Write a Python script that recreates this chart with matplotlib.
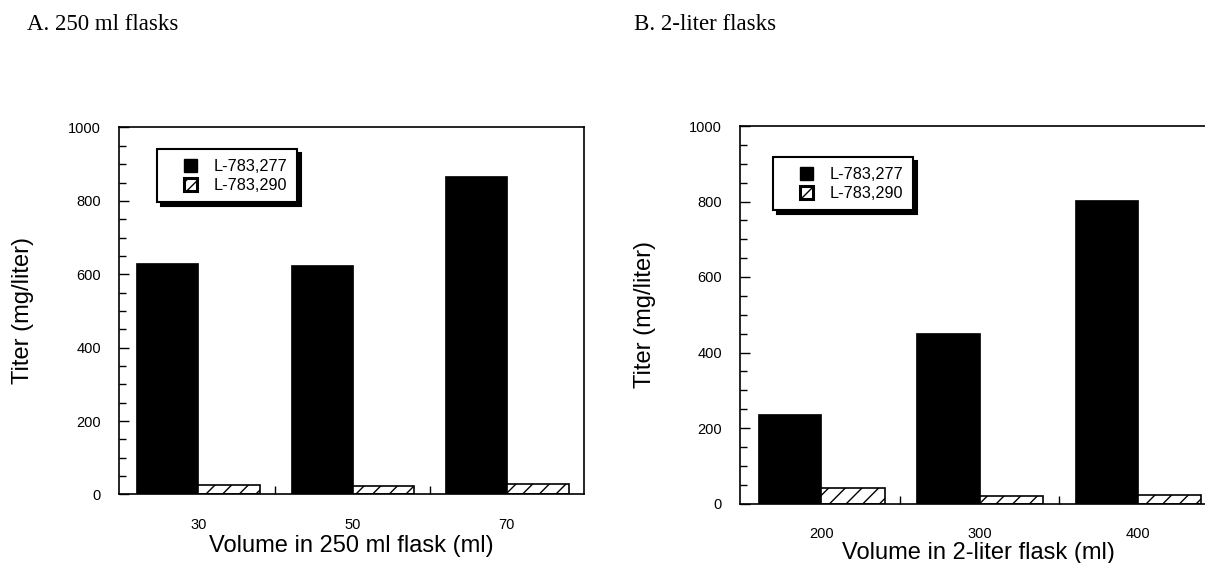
import matplotlib
matplotlib.use("Agg")
import matplotlib.pyplot as plt
import numpy as np
from matplotlib.patches import Patch, Rectangle
from matplotlib.legend_handler import HandlerPatch

plt.rcParams['font.family'] = ['Liberation Sans', 'DejaVu Sans']
plt.rcParams['hatch.linewidth'] = 1.0

# Data
cats_a = ["30", "50", "70"]
l277_a = [630, 626, 868]
l290_a = [25, 22, 28]

cats_b = ["200", "300", "400"]
l277_b = [237, 451, 803]
l290_b = [40, 20, 22]

series_names = ["L-783,277", "L-783,290"]
title_a = "A. 250 ml flasks"
title_b = "B. 2-liter flasks"
xlabel_a = "Volume in 250 ml flask (ml)"
xlabel_b = "Volume in 2-liter flask (ml)"
ylabel = "Titer (mg/liter)"


class SquareHandler(HandlerPatch):
    """Draw a small square, right-aligned in the handle box."""
    def create_artists(self, legend, orig_handle, xdescent, ydescent,
                       width, height, fontsize, trans):
        s = 0.78 * fontsize
        p = Rectangle((-xdescent + width - s, -ydescent + (height - s) / 2), s, s)
        self.update_prop(p, orig_handle, legend)
        p.set_transform(trans)
        return [p]


fig = plt.figure(figsize=(12.05, 5.63), dpi=100)


def panel(rect, cats, v1, v2, xlabel, leg_anchor, xlab_y, ylab_x):
    ax = fig.add_axes(rect)
    x = np.arange(len(cats))
    w = 0.40
    ax.bar(x - w / 2, v1, width=w, color='black', edgecolor='black', linewidth=0.5)
    ax.bar(x + w / 2, v2, width=w, color='white', edgecolor='black', hatch='//', linewidth=1.2)
    ax.set_xlim(-0.513, 2.5)
    ax.set_ylim(0, 1000)
    ax.set_xticks(x)
    ax.set_xticklabels(cats, fontsize=10.5)
    ax.set_xticks([0.5, 1.5], minor=True)
    ax.tick_params(axis='x', which='major', length=0, pad=17)
    ax.tick_params(axis='x', which='minor', length=6, direction='in', width=1)
    ax.set_yticks(np.arange(0, 1001, 200))
    ax.set_yticks(np.arange(0, 1001, 50), minor=True)
    ax.tick_params(axis='y', which='major', length=7, direction='in', width=1,
                   labelsize=10.5, pad=13)
    ax.tick_params(axis='y', which='minor', length=5, direction='in', width=1)
    for s in ax.spines.values():
        s.set_linewidth(1.2)
    ax.set_xlabel(xlabel, fontsize=17)
    ax.xaxis.set_label_coords(0.5, xlab_y)
    ax.xaxis.label.set_va('center')
    ax.set_ylabel(ylabel, fontsize=17)
    ax.yaxis.set_label_coords(ylab_x, 0.5)
    ax.yaxis.label.set_va('center')
    handles = [Patch(facecolor='black', edgecolor='black', linewidth=1),
               Patch(facecolor='white', edgecolor='black', hatch='///', linewidth=2.2)]
    leg = ax.legend(handles, series_names, loc='upper left', bbox_to_anchor=leg_anchor,
                    borderaxespad=0, fontsize=11.7, frameon=True, fancybox=False,
                    shadow={'color': 'black', 'alpha': 1, 'ox': 3, 'oy': -3},
                    handler_map={Patch: SquareHandler()},
                    handlelength=1.9, handleheight=1.0, handletextpad=1.05,
                    borderpad=0.55, labelspacing=0.2)
    leg.get_frame().set_edgecolor('black')
    leg.get_frame().set_linewidth(1.5)
    return ax


panel([119 / 1205, (563 - 494.4) / 563, 465 / 1205, 366.9 / 563],
      cats_a, l277_a, l290_a, xlabel_a, (38 / 465, (494.4 - 149) / 366.9),
      -52 / 366.9, -96 / 465)
panel([740 / 1205, (563 - 503.5) / 563, 477 / 1205, 377.5 / 563],
      cats_b, l277_b, l290_b, xlabel_b, (33 / 477, (503.5 - 157) / 377.5),
      -50 / 377.5, -95 / 477)

fig.text(27 / 1205, 1 - 24 / 563, title_a, fontsize=16.5, family='Liberation Serif',
         va='center', ha='left')
fig.text(634 / 1205, 1 - 24 / 563, title_b, fontsize=16.5, family='Liberation Serif',
         va='center', ha='left')

fig.savefig("out.png", dpi=100)
